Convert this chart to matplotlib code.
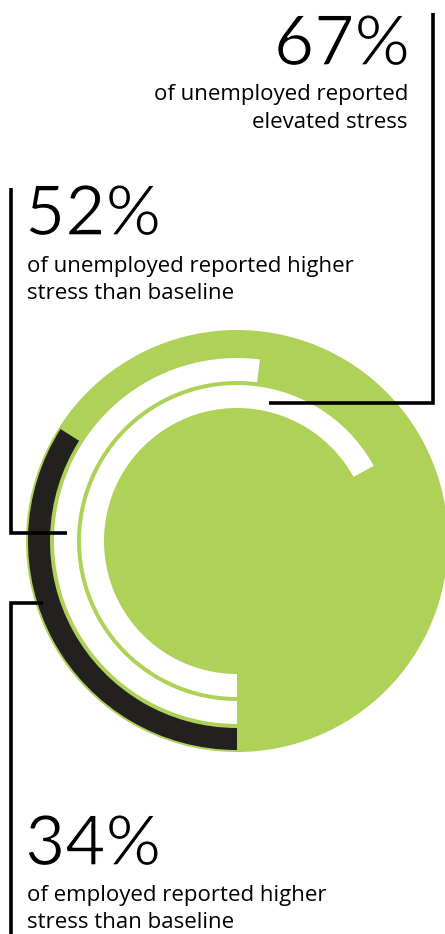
import matplotlib
matplotlib.use("Agg")
import matplotlib.pyplot as plt
import matplotlib.patheffects as pe
from matplotlib.patches import Wedge, Circle

# ---- data ----
values = [34, 52, 67]                      # percent
big_labels = ["34%", "52%", "67%"]
sub_labels = [
    "of employed reported higher\nstress than baseline",
    "of unemployed reported higher\nstress than baseline",
    "of unemployed reported\nelevated stress",
]
arc_colors = ["#222120", "#ffffff", "#ffffff"]

GREEN = "#aed157"
W, H = 445, 934

fig = plt.figure(figsize=(W / 100, H / 100), dpi=100)
ax = fig.add_axes([0, 0, 1, 1])
ax.set_xlim(0, W)
ax.set_ylim(0, H)
ax.axis("off")

def Y(yp):
    return H - yp

cx, cy = 237, Y(541)
ax.add_patch(Circle((cx, cy), 211, color=GREEN, lw=0))

# rings: outer radius and width for each series (black outer, then whites)
ring_outer = [209, 183, 156]
ring_width = [22, 23, 23]
for v, ro, rw, col in zip(values, ring_outer, ring_width, arc_colors):
    span = 360 * v / 100
    ax.add_patch(Wedge((cx, cy), ro, 270 - span, 270, width=rw, color=col, lw=0))

lw = 2.6
# leader lines
ax.plot([433, 433, 269], [Y(13), Y(403), Y(403)], color="black", lw=lw, solid_capstyle="butt", solid_joinstyle="miter")
ax.plot([11, 11, 67], [Y(188), Y(533), Y(533)], color="black", lw=lw, solid_capstyle="butt", solid_joinstyle="miter")
ax.plot([43, 11, 11], [Y(603), Y(603), Y(940)], color="black", lw=lw, solid_capstyle="butt", solid_joinstyle="miter")

thin = [pe.Stroke(linewidth=1.0, foreground="white")]
BIG = dict(fontsize=50, family="Lato", fontweight="normal", color="black", va="baseline")
SMALL = dict(fontsize=16, family="Open Sans", color="black", va="baseline")

# 67%
t = ax.text(410, Y(65), big_labels[2], ha="right", **BIG)
t.set_path_effects(thin)
l1, l2 = sub_labels[2].split("\n")
ax.text(408, Y(100), l1, ha="right", **SMALL)
ax.text(408, Y(128), l2, ha="right", **SMALL)
# 52%
t = ax.text(25, Y(235), big_labels[1], ha="left", **BIG)
t.set_path_effects(thin)
l1, l2 = sub_labels[1].split("\n")
ax.text(27, Y(272), l1, ha="left", **SMALL)
ax.text(27, Y(299), l2, ha="left", **SMALL)
# 34%
t = ax.text(25, Y(865), big_labels[0], ha="left", **BIG)
t.set_path_effects(thin)
l1, l2 = sub_labels[0].split("\n")
ax.text(27, Y(901), l1, ha="left", **SMALL)
ax.text(27, Y(928), l2, ha="left", **SMALL)

fig.savefig("out.png", dpi=100, facecolor="white")
